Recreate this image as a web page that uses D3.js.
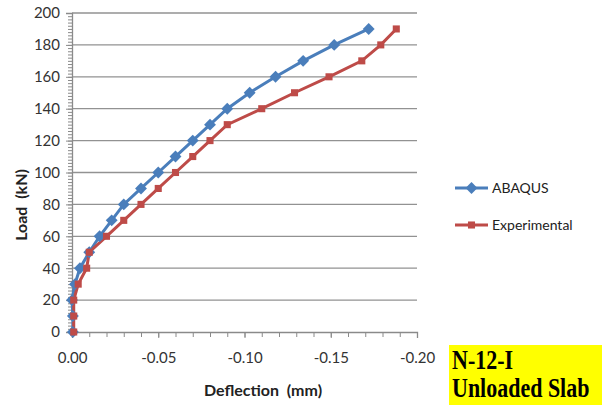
<!DOCTYPE html>
<html>
<head>
<meta charset="utf-8">
<script src="https://cdn.jsdelivr.net/npm/d3@7"></script>
<style>
  body { margin: 0; background: #fff; }
  svg { display: block; }
  text { white-space: pre; }
</style>
</head>
<body>
<div class="graph"></div>
<script>
// load steps (kN) shared by both series
var loads = [0, 10, 20, 30, 40, 50, 60, 70, 80, 90, 100, 110, 120, 130, 140, 150, 160, 170, 180, 190];
// deflections (mm)
var abaqus = [-0.0005, -0.0005, 0.0000, -0.0017, -0.0046, -0.0100, -0.0160, -0.0230, -0.0300, -0.0400,
  -0.0500, -0.0600, -0.0700, -0.0800, -0.0900, -0.1030, -0.1180, -0.1340, -0.1520, -0.1720];
var experimental = [-0.0010, -0.0010, -0.0010, -0.0036, -0.0085, -0.0100, -0.0200, -0.0300, -0.0400, -0.0500,
  -0.0600, -0.0700, -0.0800, -0.0900, -0.1100, -0.1290, -0.1490, -0.1680, -0.1790, -0.1880];
var xTicks = [0, -0.05, -0.10, -0.15, -0.20];
var yTicks = [0, 20, 40, 60, 80, 100, 120, 140, 160, 180, 200];
var seriesNames = ['ABAQUS', 'Experimental'];

var colors = { 'ABAQUS': '#4a7ebb', 'Experimental': '#be4b48' };

var series = [
  { name: 'ABAQUS', values: abaqus.map(function (d, i) { return { x: d, y: loads[i] }; }) },
  { name: 'Experimental', values: experimental.map(function (d, i) { return { x: d, y: loads[i] }; }) }
];

var width = 602, height = 405;

var x = d3.scaleLinear().domain([0, -0.20]).range([72, 417]);
var y = d3.scaleLinear().domain([0, 200]).range([332, 13]);

var svg = d3.select('.graph')
  .append('svg')
  .attr('width', width)
  .attr('height', height);

// gridlines
svg.append('g')
  .selectAll('line')
  .data(yTicks.slice(1))
  .enter()
  .append('line')
  .attr('x1', x(0))
  .attr('x2', x(-0.20))
  .attr('y1', function (d) { return y(d); })
  .attr('y2', function (d) { return y(d); })
  .attr('stroke', '#929292')
  .attr('stroke-width', 1.3);

// y axis with minor ticks every 2
var yMinor = d3.range(0, 201, 2);
svg.append('g')
  .attr('transform', 'translate(' + x(0) + ',0)')
  .call(d3.axisLeft(y).tickValues(yMinor).tickSize(4).tickFormat(''))
  .call(function (g) { g.select('.domain').remove(); })
  .selectAll('line').attr('stroke', '#8a8a8a');

var yAxis = svg.append('g')
  .attr('transform', 'translate(' + x(0) + ',0)')
  .call(d3.axisLeft(y).tickValues(yTicks).tickSize(6).tickPadding(6));
yAxis.select('.domain').attr('stroke', '#8a8a8a').attr('stroke-width', 1.3);
yAxis.selectAll('line').attr('stroke', '#8a8a8a');
yAxis.selectAll('text')
  .attr('font-family', 'Lato, sans-serif')
  .attr('font-size', 15)
  .attr('fill', '#333');

// x axis with minor ticks every 0.01
var xMinor = d3.range(0, 21).map(function (i) { return -i / 100; });
svg.append('g')
  .attr('transform', 'translate(0,' + y(0) + ')')
  .call(d3.axisBottom(x).tickValues(xMinor).tickSize(5).tickFormat(''))
  .call(function (g) { g.select('.domain').remove(); })
  .selectAll('line').attr('stroke', '#8a8a8a');

var xAxis = svg.append('g')
  .attr('transform', 'translate(0,' + y(0) + ')')
  .call(d3.axisBottom(x).tickValues(xTicks).tickSize(6).tickPadding(14)
    .tickFormat(function (d) { return d === 0 ? '0.00' : d3.format('.2f')(d).replace('−', '-'); }));
xAxis.select('.domain').attr('stroke', '#8a8a8a').attr('stroke-width', 1.3);
xAxis.selectAll('line').attr('stroke', '#8a8a8a');
xAxis.selectAll('text')
  .attr('font-family', 'Lato, sans-serif')
  .attr('font-size', 15)
  .attr('fill', '#333');

// axis titles
svg.append('text')
  .attr('x', 263)
  .attr('y', 396)
  .attr('text-anchor', 'middle')
  .attr('font-family', 'Lato, sans-serif')
  .attr('font-weight', 'bold')
  .attr('font-size', 16)
  .attr('fill', '#222')
  .text('Deflection  (mm)');

svg.append('text')
  .attr('transform', 'translate(27,205) rotate(-90)')
  .attr('text-anchor', 'middle')
  .attr('font-family', 'Lato, sans-serif')
  .attr('font-weight', 'bold')
  .attr('font-size', 16)
  .attr('fill', '#222')
  .text('Load  (kN)');

// lines
var line = d3.line()
  .x(function (d) { return x(d.x); })
  .y(function (d) { return y(d.y); });

svg.append('g')
  .selectAll('path')
  .data(series)
  .enter()
  .append('path')
  .attr('d', function (d) { return line(d.values); })
  .attr('fill', 'none')
  .attr('stroke', function (d) { return colors[d.name]; })
  .attr('stroke-width', 3);

var diamond = d3.symbol().type(d3.symbolDiamond2).size(90);
var square = d3.symbol().type(d3.symbolSquare).size(50);

series.forEach(function (s) {
  svg.append('g')
    .selectAll('path')
    .data(s.values)
    .enter()
    .append('path')
    .attr('transform', function (d) { return 'translate(' + x(d.x) + ',' + y(d.y) + ')'; })
    .attr('d', s.name === 'ABAQUS' ? diamond : square)
    .attr('fill', colors[s.name]);
});

// legend
var legend = svg.append('g')
  .attr('class', 'legend')
  .selectAll('g')
  .data(seriesNames)
  .enter()
  .append('g')
  .attr('transform', function (d, i) { return 'translate(455,' + (188 + i * 37) + ')'; });

legend.append('line')
  .attr('x1', 0).attr('x2', 33)
  .attr('stroke', function (d) { return colors[d]; })
  .attr('stroke-width', 3);
legend.append('path')
  .attr('transform', 'translate(16.5,0)')
  .attr('d', function (d) { return d === 'ABAQUS' ? diamond() : square(); })
  .attr('fill', function (d) { return colors[d]; });
legend.append('text')
  .attr('x', 37)
  .attr('dy', '0.35em')
  .attr('font-family', 'Lato, sans-serif')
  .attr('font-size', 14)
  .attr('fill', '#222')
  .text(function (d) { return d; });

// label box
svg.append('rect')
  .attr('x', 449).attr('y', 345)
  .attr('width', 153).attr('height', 60)
  .attr('fill', '#ffff00');

// the label is stretched a little vertically in the reference
var label = svg.append('text')
  .attr('transform', 'scale(1,1.2)')
  .attr('font-family', 'Liberation Serif, Times New Roman, serif')
  .attr('font-weight', 'bold')
  .attr('font-size', 22)
  .attr('fill', '#000');
label.append('tspan').attr('x', 452).attr('y', 369.5 / 1.2).text('N-12-I');
label.append('tspan').attr('x', 452).attr('y', 397 / 1.2).text('Unloaded Slab');
</script>
</body>
</html>
